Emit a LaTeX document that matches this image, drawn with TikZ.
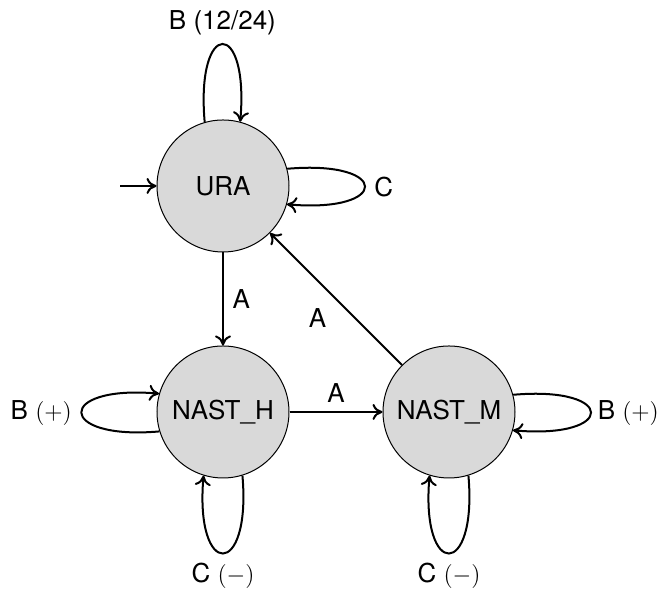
\documentclass[tikz,border=0pt]{standalone}
\usepackage{fontspec}
\setmainfont{TeX Gyre Heros}
\usepackage{tikz}
\usetikzlibrary{arrows.meta, positioning}

\begin{document}
\begin{tikzpicture}[x=0.5pt, y=0.5pt,
		zustand/.style={circle, draw, line width=0.5pt, fill=gray!30, minimum size=66pt, inner sep=0pt},
		pfeil/.style={line width=1pt, -{To[length=5pt,width=8pt]}},
		schleife/.style={distance=52pt}]
			\useasboundingbox (0,0) rectangle (666,592);
			\fontsize{13}{16}\selectfont
			
			% Zustaende
			\node[zustand] (ura) at (223,406) {URA};
			\node[zustand] (nasth) at (223,180) {NAST\_H};
			\node[zustand] (nastm) at (449,180) {NAST\_M};
			\coordinate (start) at (120,406);
			
			% Uebergaenge
			\draw[pfeil] (start) -- (ura);
			\draw[pfeil] (ura) -- node[right] {A} (nasth);
			\draw[pfeil] (nasth) -- node[above] {A} (nastm);
			\draw[pfeil] (nastm) -- node[below left] {A} (ura);
			
			% Schleifen
			\draw[pfeil] (ura.106) to[out=95, in=85, schleife] node[above] {B (12/24)} (ura.75);
			\draw[pfeil] (ura.15) to[out=5, in=-5, schleife] node[right] {C} (ura.-16);
			\draw[pfeil] (nasth.197) to[out=185, in=175, schleife] node[left] {B $(+)$} (nasth.164);
			\draw[pfeil] (nasth.-73) to[out=-85, in=-95, schleife] node[below] {C $(-)$} (nasth.-107);
			\draw[pfeil] (nastm.15) to[out=5, in=-5, schleife] node[right, inner sep=3pt] {B $(+)$} (nastm.-16);
			\draw[pfeil] (nastm.-73) to[out=-85, in=-95, schleife] node[below] {C $(-)$} (nastm.-107);
		\end{tikzpicture}
\end{document}
